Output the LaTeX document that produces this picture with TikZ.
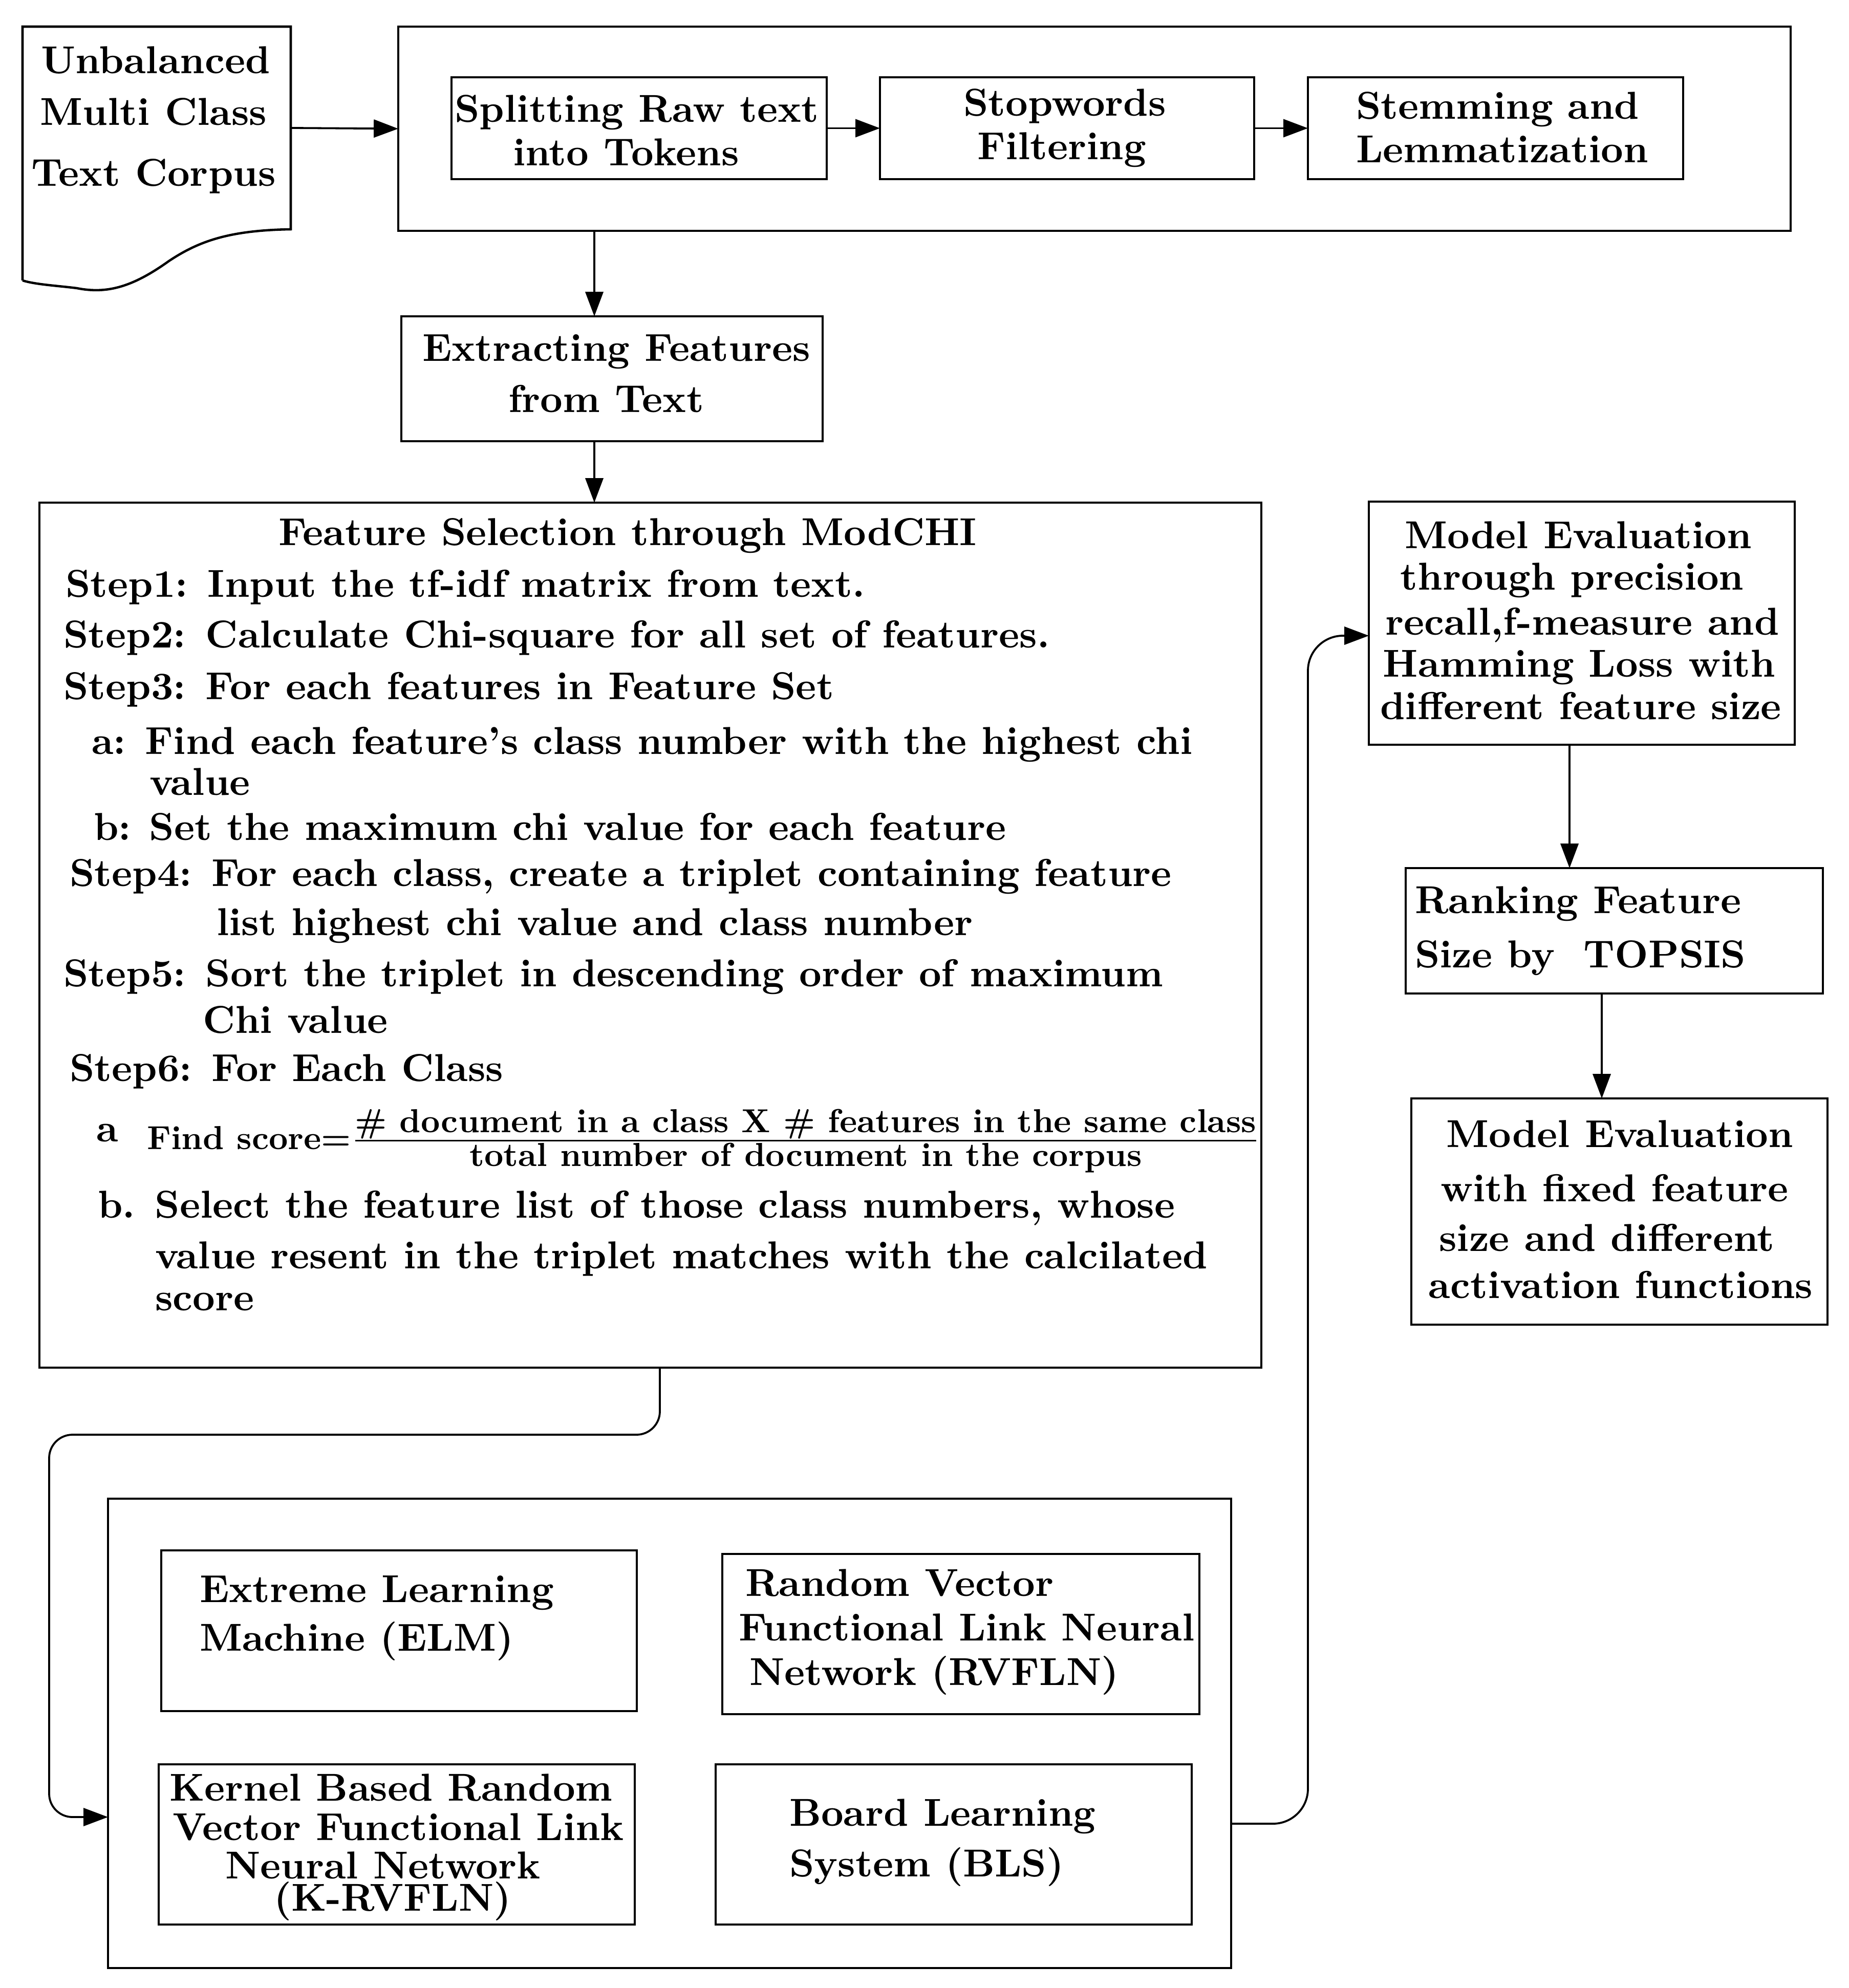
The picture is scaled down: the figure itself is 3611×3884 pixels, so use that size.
\documentclass[tikz,border=0pt]{standalone}
\usetikzlibrary{arrows.meta,fit,calc}
\usepackage{graphicx}
\begin{document}
\begin{tikzpicture}[x=0.13158pt,y=-0.13158pt,
  box/.style={draw,line width=0.6pt,inner sep=0pt,outer sep=0pt},
  txt/.style={inner sep=0pt,outer sep=0pt,font=\bfseries},
  tc/.style={txt,anchor=base},
  tl/.style={txt,anchor=base west},
  arr/.style={line width=0.5pt,-{Triangle[length=6.3pt,width=4.6pt]}}]
\useasboundingbox (0,0) rectangle (3611,3884);

% document shape
\node[inner sep=0pt,outer sep=0pt,fit={(44,52) (568,448)}] (doc) {};
\draw[line width=0.6pt] (44,548) -- (44,52) -- (568,52) -- (568,448)
  .. controls (450,450) and (390,470) .. (330,510)
  .. controls (260,560) and (210,575) .. (150,563)
  .. controls (110,558) and (70,556) .. (44,548);
\node[tc] at (304,144) {Unbalanced};
\node[tc] at (300,245) {Multi Class};
\node[tc] at (300,364) {Text Corpus};

% preprocessing
\node[box,fit={(778,52) (3498,451)}] (pre) {};
\node[box,fit={(882,151) (1615,350)}] (split) {};
\node[box,fit={(1719,151) (2450,350)}] (stop) {};
\node[box,fit={(2555,151) (3288,350)}] (stem) {};
\node[tc] at (1244,239) {Splitting Raw text};
\node[tc] at (1223,324) {into Tokens};
\node[tc] at (2080,227) {Stopwords};
\node[tc] at (2074,312) {Filtering};
\node[tl] at (2649,233) {Stemming and};
\node[tl] at (2649,318) {Lemmatization};

\draw[arr] (doc.east) -- (pre.west);
\draw[arr] (split.east) -- (stop.west);
\draw[arr] (stop.east) -- (stem.west);

% extracting
\node[box,fit={(784,618) (1607,862)}] (extract) {};
\node[tc] at (1204,706) {Extracting Features};
\node[tc] at (1184,806) {from Text};

% ModCHI
\node[box,fit={(77,982) (2464,2672)}] (mod) {};
\node[tc] at (1226,1066) {Feature Selection through ModCHI};
\node[tl] at (128,1167) {Step1: Input the tf-idf matrix from text.};
\node[tl] at (124,1266) {Step2: Calculate Chi-square for all set of features.};
\node[tl] at (124,1367) {Step3: For each features in Feature Set};
\node[tl] at (179,1473) {\makebox[13.8pt][l]{a:}Find each feature's class number with the highest chi};
\node[tl] at (292,1553) {value};
\node[tl] at (183,1641) {\makebox[14.3pt][l]{b:}Set the maximum chi value for each feature};
\node[tl] at (136,1731) {Step4: For each class, create a triplet containing feature};
\node[tl] at (423,1827) {list highest chi value and class number};
\node[tl] at (124,1927) {Step5: Sort the triplet in descending order of maximum};
\node[tl] at (396,2018) {Chi value};
\node[tl] at (136,2112) {Step6: For Each Class};
\node[tl] at (188,2230) {a};
\node[tl] at (287,2245) {\scalebox{0.855}{Find score=$\frac{\hbox{\# document in a class X \# features in the same class}}{\hbox{total number of document in the corpus}}$}};
\node[tl] at (191,2379) {\makebox[14.7pt][l]{b.}Select the feature list of those class numbers, whose};
\node[tl] at (303,2478) {value resent in the triplet matches with the calcilated};
\node[tl] at (303,2560) {score};

\coordinate (p1) at ($(pre.south west)+(383,0)$);
\draw[arr] (p1) -- (p1 |- extract.north);
\coordinate (p2) at ($(extract.south west)+(377,0)$);
\draw[arr] (p2) -- (p2 |- mod.north);

% right column
\node[box,fit={(2674,980) (3506,1455)}] (eval1) {};
\node[tc] at (3083,1072) {Model Evaluation};
\node[tc] at (3071,1153) {through precision};
\node[tc] at (3091,1241) {recall,f-measure and};
\node[tc] at (3085,1322) {Hamming Loss with};
\node[tc] at (3088,1405) {different feature size};

\node[box,fit={(2746,1696) (3561,1941)}] (rank) {};
\node[tl] at (2764,1784) {Ranking Feature};
\node[tl] at (2764,1890) {\makebox[43.4pt][l]{Size by}TOPSIS};

\node[box,fit={(2757,2146) (3570,2588)}] (eval2) {};
\node[tc] at (3164,2241) {Model Evaluation};
\node[tc] at (3154,2347) {with fixed feature};
\node[tc] at (3139,2444) {size and different};
\node[tc] at (3166,2536) {activation functions};

\coordinate (q1) at ($(eval1.south west)+(392,0)$);
\draw[arr] (q1) -- (q1 |- rank.north);
\coordinate (q2) at ($(rank.south west)+(383,0)$);
\draw[arr] (q2) -- (q2 |- eval2.north);

% learning models
\node[box,fit={(211,2928) (2405,3845)}] (ml) {};
\node[box,fit={(315,3029) (1244,3343)}] (elm) {};
\node[box,fit={(1411,3036) (2343,3349)}] (rvfln) {};
\node[box,fit={(310,3447) (1240,3760)}] (krvfln) {};
\node[box,fit={(1398,3447) (2328,3760)}] (bls) {};
\node[tl] at (390,3130) {Extreme Learning};
\node[tl] at (390,3225) {Machine (ELM)};
\node[tl] at (1456,3118) {Random Vector};
\node[tl] at (1443,3205) {Functional Link Neural};
\node[tl] at (1464,3292) {Network (RVFLN)};
\node[tc] at (764,3518) {Kernel Based Random};
\node[tc] at (778,3595) {Vector Functional Link};
\node[tc] at (748,3670) {Neural Network};
\node[tc] at (767,3733) {(K-RVFLN)};
\node[tl] at (1542,3567) {Board Learning};
\node[tl] at (1542,3666) {System (BLS)};

\coordinate (m1) at ($(mod.south west)+(1212,0)$);
\coordinate (m2) at ($(ml.north west)+(0,622)$);
\draw[arr,rounded corners=6pt] (m1) |- ($(ml.north west)+(-115,-125)$) |- (m2);

\coordinate (r1) at ($(ml.north east)+(0,635)$);
\coordinate (r2) at ($(eval1.north west)+(0,262)$);
\draw[arr,rounded corners=9pt] (r1) -| ($(r2)+(-119,0)$) -- (r2);
\end{tikzpicture}
\end{document}
